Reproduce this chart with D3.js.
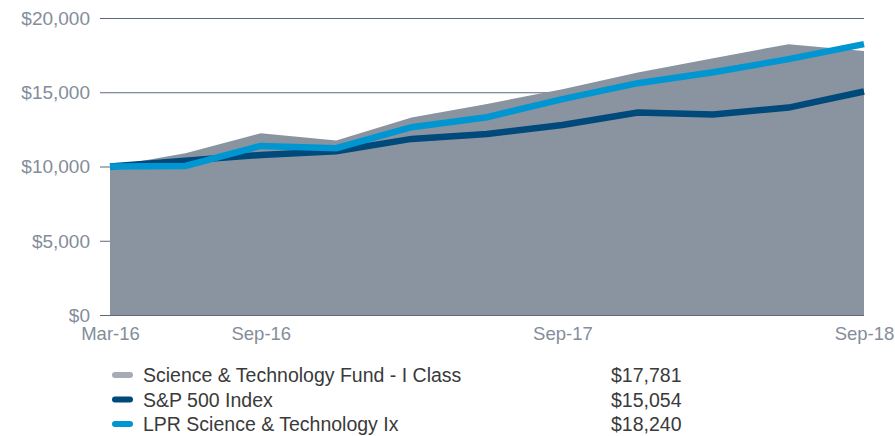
<!DOCTYPE html>
<html>
<head>
<meta charset="utf-8">
<script src="https://cdn.jsdelivr.net/npm/d3@7"></script>
<style>
  html, body { margin: 0; padding: 0; background: #fff; }
  svg { display: block; font-family: "Liberation Sans", "Helvetica Neue", Arial, sans-serif; }
</style>
</head>
<body>
<svg id="chart" width="895" height="436"></svg>
<script>
// Growth of $10,000, quarterly, Mar-16 to Sep-18
const periods = ["Mar-16", "Jun-16", "Sep-16", "Dec-16", "Mar-17", "Jun-17",
                 "Sep-17", "Dec-17", "Mar-18", "Jun-18", "Sep-18"];
const fundValues = [10000, 10894, 12242, 11743, 13293, 14215, 15200, 16324, 17294, 18237, 17781];
const sp500Values = [10000, 10396, 10780, 11030, 11858, 12194, 12800, 13630, 13510, 13966, 15054];
const lprValues = [10000, 10038, 11386, 11230, 12646, 13320, 14540, 15610, 16351, 17227, 18240];
const xTickLabels = ["Mar-16", "Sep-16", "Sep-17", "Sep-18"];
const yTicks = [0, 5000, 10000, 15000, 20000];

const legendItems = [
  { name: "Science & Technology Fund - I Class", value: fundValues[fundValues.length - 1], color: "#a5acb6" },
  { name: "S&P 500 Index", value: sp500Values[sp500Values.length - 1], color: "#00497b" },
  { name: "LPR Science & Technology Ix", value: lprValues[lprValues.length - 1], color: "#0096d2" }
];

const svg = d3.select("#chart");
const margin = { left: 110, right: 31, top: 18, bottom: 121 };
const W = 895, H = 436;

const x = d3.scalePoint().domain(periods).range([margin.left, W - margin.right]);
const y = d3.scaleLinear().domain([0, 20000]).range([H - margin.bottom, margin.top]);

const money = d => "$" + d3.format(",")(d);
const textColor = "#848d9a";
const gridColor = "#5d6979";

// gridlines with short ticks to the left of the plot
const yAxis = d3.axisLeft(y).tickValues(yTicks).tickFormat(money)
  .tickSize(-(W - margin.right - margin.left)).tickPadding(20);
const gy = svg.append("g").attr("transform", `translate(${margin.left},0)`).call(yAxis);
gy.select(".domain").remove();
gy.selectAll(".tick line").attr("stroke", gridColor).attr("stroke-width", 1.2).attr("x1", -10);
gy.selectAll(".tick text").attr("fill", textColor).attr("font-size", 19).attr("dy", "0.34em");

// fund area
const area = d3.area().x((d, i) => x(periods[i])).y0(y(0)).y1(d => y(d));
svg.append("path").datum(fundValues).attr("d", area).attr("fill", "#8a94a0");

// index lines
const line = d3.line().x((d, i) => x(periods[i])).y(d => y(d));
svg.append("path").datum(sp500Values).attr("d", line)
  .attr("fill", "none").attr("stroke", "#00497b").attr("stroke-width", 6.5);
svg.append("path").datum(lprValues).attr("d", line)
  .attr("fill", "none").attr("stroke", "#0096d2").attr("stroke-width", 6.5);

// x axis labels
const xAxis = d3.axisBottom(x).tickValues(xTickLabels).tickSize(0).tickPadding(12);
const gx = svg.append("g").attr("transform", `translate(0,${y(0)})`).call(xAxis);
gx.select(".domain").remove();
gx.selectAll(".tick text").attr("fill", textColor).attr("font-size", 18.5);

// legend
const legend = svg.append("g");
const rowY = d3.scalePoint().domain(legendItems.map(d => d.name)).range([375, 424]);
const row = legend.selectAll("g").data(legendItems).join("g")
  .attr("transform", d => `translate(0,${rowY(d.name)})`);
row.append("line").attr("x1", 115).attr("x2", 130).attr("y1", 0).attr("y2", 0)
  .attr("stroke", d => d.color).attr("stroke-width", 6).attr("stroke-linecap", "round");
row.append("text").attr("x", 143).attr("dy", "0.36em").attr("font-size", 19.5)
  .attr("fill", "#3a3a3a").text(d => d.name);
row.append("text").attr("x", 611).attr("dy", "0.36em").attr("font-size", 19.5)
  .attr("fill", "#3a3a3a").text(d => money(d.value));
</script>
</body>
</html>
